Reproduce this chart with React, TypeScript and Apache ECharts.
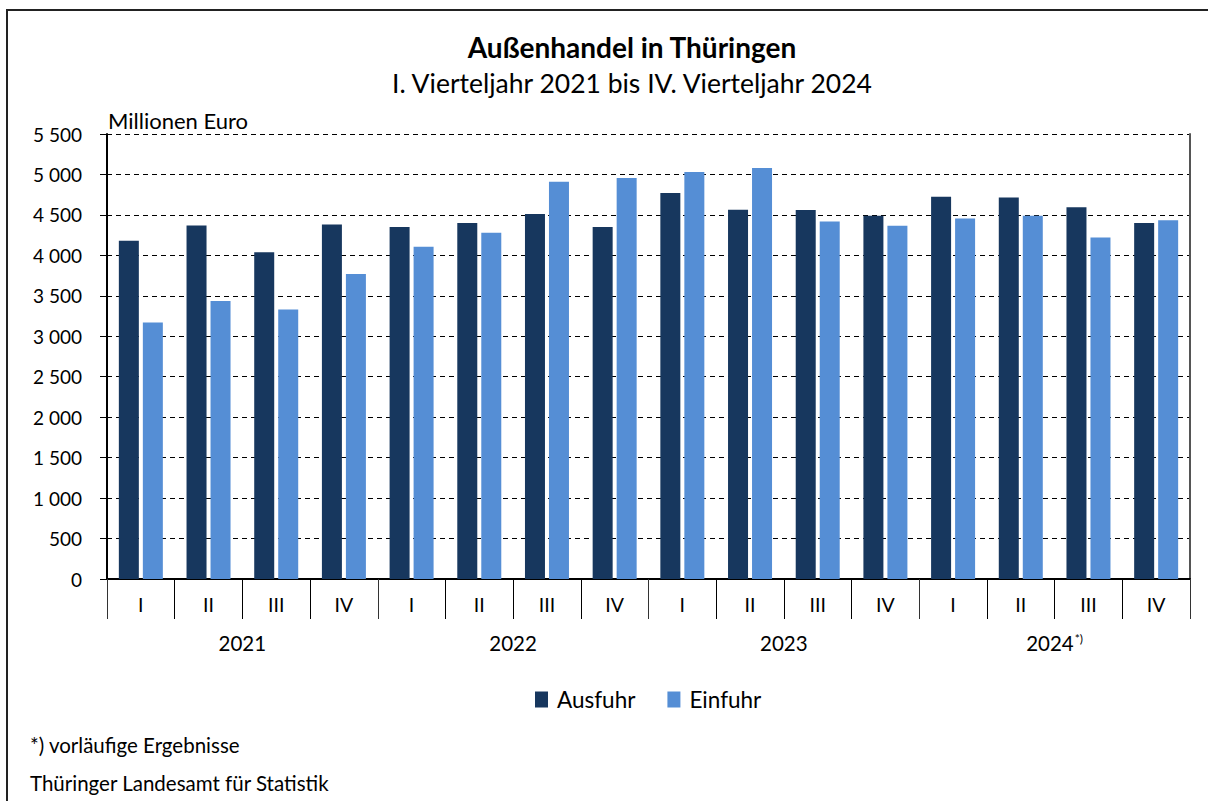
import React, { useEffect, useRef } from "react";
import * as echarts from "echarts";

const years = ["2021", "2022", "2023", "2024"];
const quarters = ["I", "II", "III", "IV"];
const ausfuhr = [4180, 4370, 4040, 4380, 4350, 4400, 4510, 4350, 4770, 4565, 4560, 4490, 4725, 4715, 4595, 4400];
const einfuhr = [3170, 3435, 3330, 3770, 4105, 4280, 4910, 4955, 5030, 5080, 4420, 4365, 4455, 4490, 4220, 4435];
const yTicks = { min: 0, max: 5500, interval: 500 };
const provisionalYear = "2024";

const FONT = "Lato, 'Noto Sans', sans-serif";

export default function App() {
  const ref = useRef<HTMLDivElement>(null);
  useEffect(() => {
    if (!ref.current) return;
    const chart = echarts.init(ref.current, null, { renderer: "svg" });
    const quarterCats: string[] = [];
    years.forEach(() => quarters.forEach((q) => quarterCats.push(q)));
    const fmt = (v: number) => {
      const s = String(v);
      return s.length > 3 ? s.slice(0, s.length - 3) + " " + s.slice(s.length - 3) : s;
    };
    chart.setOption({
      animation: false,
      textStyle: { fontFamily: FONT, color: "#000" },
      title: [
        {
          text: "Außenhandel in Thüringen",
          left: 627,
          top: 28,
          textAlign: "center",
          textStyle: { fontFamily: FONT, fontSize: 28, fontWeight: "bold", color: "#000" },
        },
        {
          text: "I. Vierteljahr 2021 bis IV. Vierteljahr 2024",
          left: 627,
          top: 64,
          textAlign: "center",
          textStyle: { fontFamily: FONT, fontSize: 26.5, fontWeight: "normal", color: "#000" },
        },
      ],
      legend: {
        left: 530,
        top: 683,
        itemWidth: 13,
        itemHeight: 16,
        itemGap: 32,
        icon: "rect",
        textStyle: { fontFamily: FONT, fontSize: 22.5, color: "#000", padding: [0, 0, 0, 4] },
        data: ["Ausfuhr", "Einfuhr"],
      },
      grid: { left: 107, right: 18, top: 134, bottom: 222, containLabel: false },
      xAxis: [
        {
          type: "category",
          data: quarterCats,
          position: "bottom",
          axisLine: { show: true, lineStyle: { color: "#000", width: 2 } },
          axisTick: { show: true, interval: 0, length: 40, lineStyle: { color: "#000", width: 1 } },
          axisLabel: { interval: 0, margin: 15, fontSize: 19.5, color: "#000", fontFamily: FONT },
        },
        {
          type: "category",
          data: years,
          position: "bottom",
          offset: 40,
          axisLine: { show: false },
          axisTick: { show: true, interval: 0, length: 40, lineStyle: { color: "#333", width: 1 } },
          axisLabel: {
            interval: 0,
            margin: 13,
            fontSize: 20.5,
            color: "#000",
            fontFamily: FONT,
            formatter: (v: string) => (v === provisionalYear ? v + "{sup|*)}" : v),
            rich: {
              sup: { fontSize: 12, fontFamily: FONT, color: "#000", verticalAlign: "top", padding: [0, 0, 10, 1] },
            },
          },
        },
      ],
      yAxis: [
        {
          type: "value",
          min: yTicks.min,
          max: yTicks.max,
          interval: yTicks.interval,
          axisLine: { show: true, lineStyle: { color: "#000", width: 2 } },
          axisTick: { show: true, length: 7, lineStyle: { color: "#000", width: 1 } },
          axisLabel: { margin: 25, fontSize: 19, color: "#000", fontFamily: FONT, formatter: fmt },
          splitLine: { show: true, lineStyle: { color: "#000", type: [5, 4], width: 1 } },
        },
        {
          type: "value",
          min: yTicks.min,
          max: yTicks.max,
          interval: yTicks.interval,
          position: "right",
          axisLine: { show: true, lineStyle: { color: "#555", width: 2 } },
          axisTick: { show: false },
          axisLabel: { show: false },
          splitLine: { show: false },
        },
      ],
      series: [
        {
          name: "Ausfuhr",
          type: "bar",
          data: ausfuhr,
          barWidth: 20,
          barGap: "20%",
          itemStyle: { color: "#17375E" },
        },
        {
          name: "Einfuhr",
          type: "bar",
          data: einfuhr,
          barWidth: 20,
          barGap: "20%",
          itemStyle: { color: "#558ED5" },
        },
      ],
      graphic: [
        {
          type: "rect",
          shape: { x: 7, y: 10, width: 1230, height: 820 },
          style: { fill: "none", stroke: "#222", lineWidth: 2 },
          silent: true,
        },
        {
          type: "text",
          left: 108,
          top: 109,
          style: { text: "Millionen Euro", fontSize: 22, fontFamily: FONT, fill: "#000" },
        },
        {
          type: "text",
          left: 30,
          top: 734,
          style: { text: "*) vorläufige Ergebnisse", fontSize: 20.5, fontFamily: FONT, fill: "#000" },
        },
        {
          type: "text",
          left: 30,
          top: 772,
          style: { text: "Thüringer Landesamt für Statistik", fontSize: 20.5, fontFamily: FONT, fill: "#000" },
        },
      ],
    });
    return () => chart.dispose();
  }, []);
  return (
    <div
      ref={ref}
      style={{ position: "fixed", left: 0, top: 0, width: 1208, height: 801, background: "#fff" }}
    />
  );
}
